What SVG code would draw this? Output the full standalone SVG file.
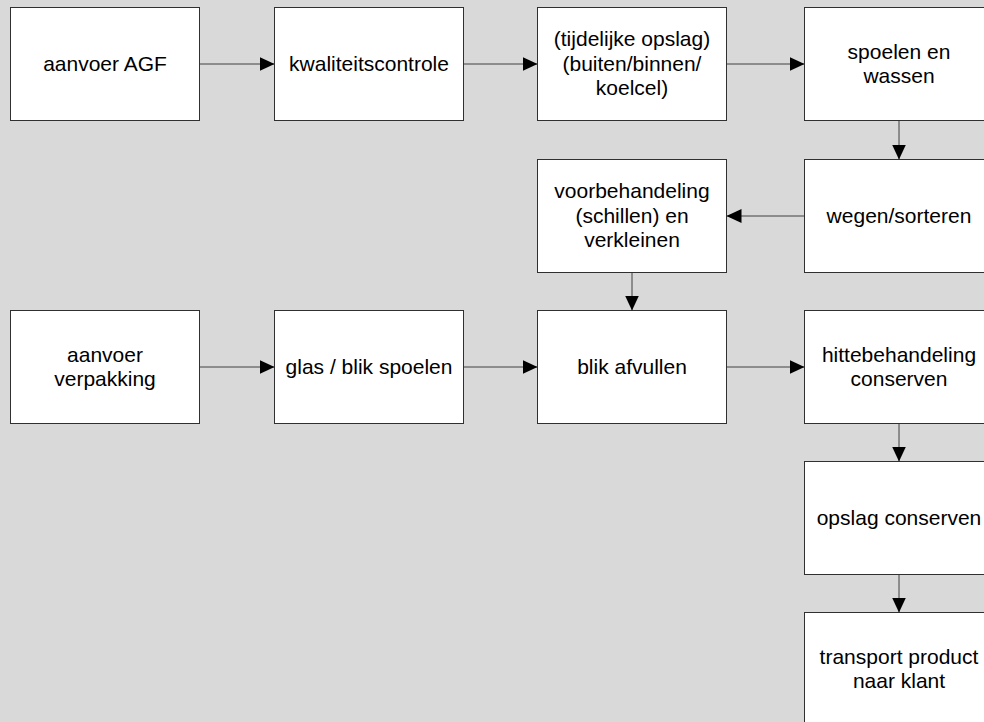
<svg xmlns="http://www.w3.org/2000/svg" width="984" height="722" viewBox="0 0 984 722">
  <style>
    .box { fill: #ffffff; stroke: #303030; stroke-width: 1; }
    .lbl { font-family: "Liberation Sans", Arial, sans-serif; font-size: 21px; fill: #000000; text-anchor: middle; }
    .link { stroke: #404040; stroke-width: 1; fill: none; marker-end: url(#arrow); }
  </style>
  <defs>
    <marker id="arrow" markerUnits="userSpaceOnUse" markerWidth="15" markerHeight="14" refX="15" refY="7" orient="auto">
      <path d="M0,0 L15,7 L0,14 Z" fill="#000000"/>
    </marker>
  </defs>
  <rect x="0" y="0" width="984" height="722" fill="#d9d9d9"/>

  <g id="connectors">
    <line class="link" x1="199.5" y1="64" x2="274.5" y2="64"/>
    <line class="link" x1="463.5" y1="64" x2="537.5" y2="64"/>
    <line class="link" x1="726.5" y1="64" x2="804.5" y2="64"/>
    <line class="link" x1="899" y1="120.5" x2="899" y2="159.5"/>
    <line class="link" x1="804.5" y1="216" x2="726.5" y2="216"/>
    <line class="link" x1="632" y1="272.5" x2="632" y2="310.5"/>
    <line class="link" x1="199.5" y1="367" x2="274.5" y2="367"/>
    <line class="link" x1="463.5" y1="367" x2="537.5" y2="367"/>
    <line class="link" x1="726.5" y1="367" x2="804.5" y2="367"/>
    <line class="link" x1="899" y1="423.5" x2="899" y2="461.5"/>
    <line class="link" x1="899" y1="574.5" x2="899" y2="612.5"/>
  </g>

  <g id="aanvoer-agf">
    <rect class="box" x="10.5" y="7.5" width="189" height="113"/>
    <text class="lbl" x="105" y="71.3">aanvoer AGF</text>
  </g>
  <g id="kwaliteitscontrole">
    <rect class="box" x="274.5" y="7.5" width="189" height="113"/>
    <text class="lbl" x="369" y="71.3">kwaliteitscontrole</text>
  </g>
  <g id="tijdelijke-opslag">
    <rect class="box" x="537.5" y="7.5" width="189" height="113"/>
    <text class="lbl" x="632" y="46">(tijdelijke opslag)</text>
    <text class="lbl" x="632" y="70.5">(buiten/binnen/</text>
    <text class="lbl" x="632" y="95">koelcel)</text>
  </g>
  <g id="spoelen-wassen">
    <rect class="box" x="804.5" y="7.5" width="189" height="113"/>
    <text class="lbl" x="899" y="58.8">spoelen en</text>
    <text class="lbl" x="899" y="83.2">wassen</text>
  </g>
  <g id="wegen-sorteren">
    <rect class="box" x="804.5" y="159.5" width="189" height="113"/>
    <text class="lbl" x="899" y="223.3">wegen/sorteren</text>
  </g>
  <g id="voorbehandeling">
    <rect class="box" x="537.5" y="159.5" width="189" height="113"/>
    <text class="lbl" x="632" y="198">voorbehandeling</text>
    <text class="lbl" x="632" y="222.5">(schillen) en</text>
    <text class="lbl" x="632" y="247">verkleinen</text>
  </g>
  <g id="aanvoer-verpakking">
    <rect class="box" x="10.5" y="310.5" width="189" height="113"/>
    <text class="lbl" x="105" y="361.8">aanvoer</text>
    <text class="lbl" x="105" y="386.2">verpakking</text>
  </g>
  <g id="glas-blik-spoelen">
    <rect class="box" x="274.5" y="310.5" width="189" height="113"/>
    <text class="lbl" x="369" y="374.3">glas / blik spoelen</text>
  </g>
  <g id="blik-afvullen">
    <rect class="box" x="537.5" y="310.5" width="189" height="113"/>
    <text class="lbl" x="632" y="374.3">blik afvullen</text>
  </g>
  <g id="hittebehandeling">
    <rect class="box" x="804.5" y="310.5" width="189" height="113"/>
    <text class="lbl" x="899" y="361.8">hittebehandeling</text>
    <text class="lbl" x="899" y="386.2">conserven</text>
  </g>
  <g id="opslag-conserven">
    <rect class="box" x="804.5" y="461.5" width="189" height="113"/>
    <text class="lbl" x="899" y="525.3">opslag conserven</text>
  </g>
  <g id="transport">
    <rect class="box" x="804.5" y="612.5" width="189" height="113"/>
    <text class="lbl" x="899" y="663.8">transport product</text>
    <text class="lbl" x="899" y="688.2">naar klant</text>
  </g>
</svg>
